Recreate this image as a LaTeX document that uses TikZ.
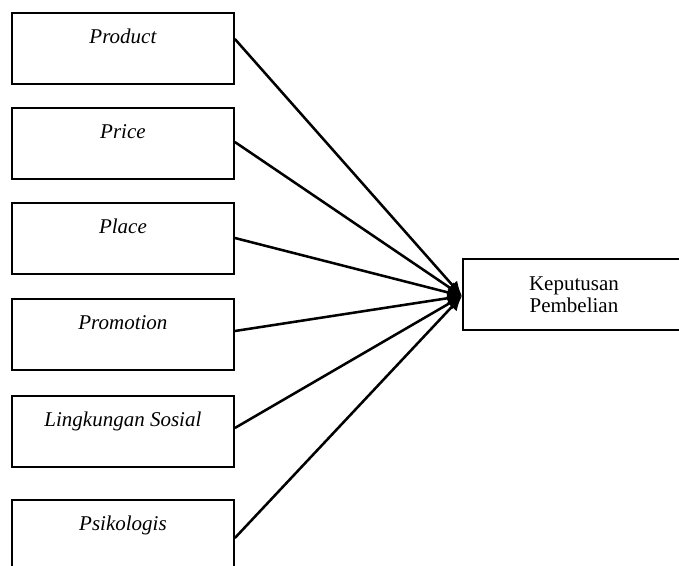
\documentclass[tikz,border=0pt]{standalone}
\usepackage{fontspec}
\setmainfont{Liberation Serif}
\usetikzlibrary{arrows.meta}
\begin{document}
\begin{tikzpicture}[x=0.75pt,y=-0.75pt,
  box/.style={draw, line width=1.4pt, anchor=north west, minimum width=166.5pt,
    inner sep=0pt, text height=23.25pt, text depth=30pt,
    font=\fontsize{15.75}{17}\selectfont\itshape},
  rbox/.style={draw, line width=1.4pt, anchor=north west, minimum width=166.5pt,
    minimum height=53.25pt, inner sep=0pt, align=center,
    font=\fontsize{15.75}{16.5}\selectfont},
  arr/.style={line width=1.9pt, -{Latex[length=11pt,width=10pt]}}]
\useasboundingbox (0,0) rectangle (679,565);
\clip (0,0) rectangle (679,565);
\node[box] (p1) at (11,12) {Product};
\node[box] (p2) at (11,107) {Price};
\node[box] (p3) at (11,202) {Place};
\node[box] (p4) at (11,298) {Promotion};
\node[box] (p5) at (11,395) {Lingkungan Sosial};
\node[box] (p6) at (11,499) {Psikologis};
\node[rbox] (k) at (462,258) {Keputusan\\Pembelian};
\coordinate (tip) at ([yshift=-28.5pt]k.north west);
\draw[arr] ([yshift=-20.25pt]p1.north east) -- (tip);
\draw[arr] ([yshift=-26.25pt]p2.north east) -- (tip);
\draw[arr] ([yshift=-27pt]p3.north east) -- (tip);
\draw[arr] ([yshift=-24.75pt]p4.north east) -- (tip);
\draw[arr] ([yshift=-24.75pt]p5.north east) -- (tip);
\draw[arr] ([yshift=-29.25pt]p6.north east) -- (tip);
\end{tikzpicture}
\end{document}
